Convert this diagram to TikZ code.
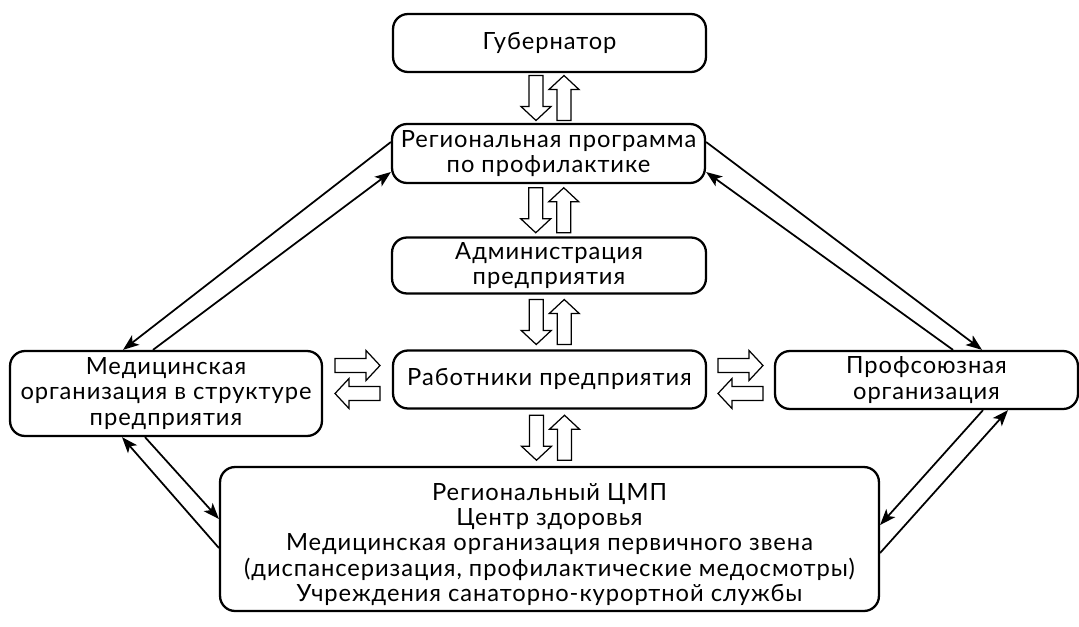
\documentclass[tikz,border=0pt]{standalone}
\usepackage{fontspec}
\setmainfont[LetterSpace=4]{Lato}
\usetikzlibrary{arrows.meta,calc}
\definecolor{Ink}{HTML}{000000}
\tikzset{>={Stealth[length=3.2mm,width=2.4mm,inset=.8mm]},every node/.style={font=\fontsize{13.5}{14.5}\selectfont},
 box/.style={draw=Ink,line width=1.3pt,rounded corners=3mm,align=center,inner sep=0pt},
 link/.style={draw=Ink,line width=1pt,->},
 hollow/.pic={\draw[Ink,line width=.7pt,fill=white,line join=miter]
 (-22.5,7)--(8.5,7)--(8.5,15)--(22.5,0)--(8.5,-15)--(8.5,-7)--(-22.5,-7)--cycle;}}
\begin{document}
\begin{tikzpicture}[x=0.02cm,y=-0.02cm]
\useasboundingbox (0,0) rectangle (1079,626);
\node[box,minimum width=6.26cm,minimum height=1.16cm] (gub) at (549.5,43) {Губернатор};
\node[box,minimum width=6.26cm,minimum height=1.18cm] (reg) at (548.5,153.5) {Региональная программа\\по профилактике};
\node[box,minimum width=6.28cm,minimum height=1.12cm] (adm) at (549,265.5) {Администрация\\предприятия};
\node[box,minimum width=6.26cm,minimum height=1.16cm] (rab) at (549.5,379.5) {Работники предприятия};
\node[box,minimum width=6.24cm,minimum height=1.7cm] (med) at (166,393.5) {Медицинская\\организация в структуре\\предприятия};
\node[box,minimum width=6.06cm,minimum height=1.16cm] (prof) at (926.5,380) {Профсоюзная\\организация};
\node[box,minimum width=13.18cm,minimum height=2.88cm] (bot) at (549.5,539) {\rule{0pt}{16pt}Региональный ЦМП\\Центр здоровья\\Медицинская организация первичного звена\\(диспансеризация, профилактические медосмотры)\\Учреждения санаторно-курортной службы};
% hollow arrows
\foreach \a/\b in {gub/reg,reg/adm,adm/rab,rab/bot}{
 \pic[rotate=-90] at ($(\a.south)!.5!(\b.north)+(-13,0)$) {hollow};
 \pic[rotate=90] at ($(\a.south)!.5!(\b.north)+(15,0)$) {hollow};}
\foreach \a/\b in {med/rab,rab/prof}{
 \pic at ($(\a.east |- rab)!.5!(\b.west |- rab)+(0,-14)$) {hollow};
 \pic[rotate=180] at ($(\a.east |- rab)!.5!(\b.west |- rab)+(0,14)$) {hollow};}
% links
\draw[link] ($(reg.west)+(0,-11.5)$)--($(med.north)+(-43,0)$);
\draw[link] ($(med.north)+(-13,0)$)--($(reg.west)+(0,18.5)$);
\draw[link] ($(reg.east)+(0,-11.5)$)--($(prof.north)+(55.5,0)$);
\draw[link] ($(prof.north)+(26.5,0)$)--($(reg.east)+(0,18.5)$);
\draw[link] ($(med.south)+(-21,0)$)--($(bot.west)+(0,-20)$);
\draw[link] ($(bot.west)+(0,9)$)--($(med.south)+(-44,0)$);
\draw[link] ($(prof.south)+(56.5,0)$)--($(bot.east)+(0,-14)$);
\draw[link] ($(bot.east)+(0,14)$)--($(prof.south)+(81.5,0)$);
\end{tikzpicture}
\end{document}
